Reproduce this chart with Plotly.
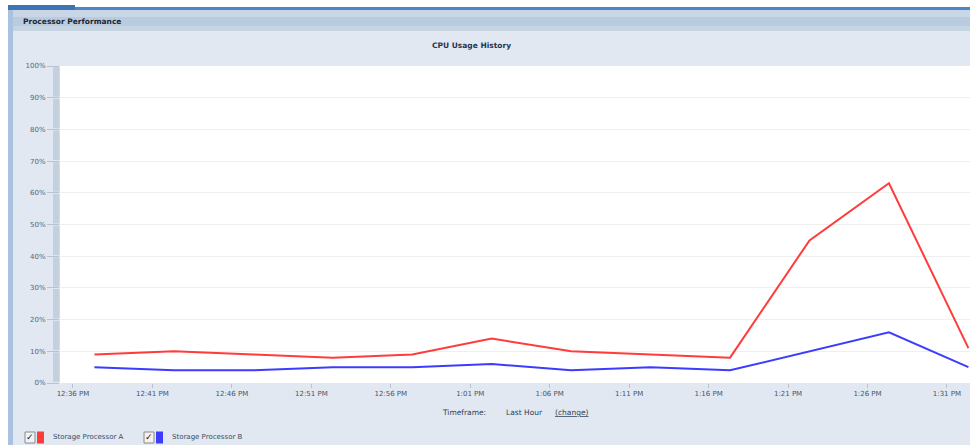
import plotly.graph_objects as go

# ---------------- data ----------------
times = ["2024-01-01 12:37:21", "2024-01-01 12:42:21", "2024-01-01 12:47:21",
         "2024-01-01 12:52:21", "2024-01-01 12:57:21", "2024-01-01 13:02:21",
         "2024-01-01 13:07:21", "2024-01-01 13:12:21", "2024-01-01 13:17:21",
         "2024-01-01 13:22:21", "2024-01-01 13:27:21", "2024-01-01 13:32:21"]
sp_a = [9, 10, 9, 8, 9, 14, 10, 9, 8, 45, 63, 11]
sp_b = [5, 4, 4, 5, 5, 6, 4, 5, 4, 10, 16, 5]

tick_times = ["2024-01-01 12:36", "2024-01-01 12:41", "2024-01-01 12:46",
              "2024-01-01 12:51", "2024-01-01 12:56", "2024-01-01 13:01",
              "2024-01-01 13:06", "2024-01-01 13:11", "2024-01-01 13:16",
              "2024-01-01 13:21", "2024-01-01 13:26", "2024-01-01 13:31"]
tick_labels = ["12:36 PM", "12:41 PM", "12:46 PM", "12:51 PM", "12:56 PM", "1:01 PM",
               "1:06 PM", "1:11 PM", "1:16 PM", "1:21 PM", "1:26 PM", "1:31 PM"]
y_ticks = [0, 10, 20, 30, 40, 50, 60, 70, 80, 90, 100]
y_tick_labels = ["0%", "10%", "20%", "30%", "40%", "50%", "60%", "70%", "80%", "90%", "100%"]

series_names = ["Storage Processor A", "Storage Processor B"]
series_colors = ["#ff3c3c", "#3c3cff"]

# ---------------- geometry helpers ----------------
W_FIG, H_FIG = 970, 445
L, R, T, B = 60, 970, 66, 383
PW, PH = R - L, B - T


def px(x):
    return (x - L) / PW


def py(y):
    return (B - y) / PH


FONT = "DejaVu Sans"
PANEL = "#e1e8f2"

fig = go.Figure()
for name, vals, col in zip(series_names, [sp_a, sp_b], series_colors):
    fig.add_trace(go.Scatter(x=times, y=vals, mode="lines", name=name,
                             line=dict(color=col, width=2), hoverinfo="skip"))

shapes = []
# white outer strips
shapes.append(dict(type="rect", xref="paper", yref="paper", x0=px(0), x1=px(8), y0=py(445), y1=py(0),
                   fillcolor="white", line_width=0, layer="below"))
shapes.append(dict(type="rect", xref="paper", yref="paper", x0=px(0), x1=px(970), y0=py(7), y1=py(0),
                   fillcolor="white", line_width=0, layer="below"))
# top blue bar
shapes.append(dict(type="rect", xref="paper", yref="paper", x0=px(8), x1=px(970), y0=py(10), y1=py(7),
                   fillcolor="#4a86c8", line_width=0, layer="below"))
shapes.append(dict(type="rect", xref="paper", yref="paper", x0=px(8), x1=px(75), y0=py(10), y1=py(5),
                   fillcolor="#3f74b4", line_width=0, layer="below"))
# header band (gradient approximation)
for y0, y1, c in [(10, 17, "#c8d6e5"), (17, 26, "#b9cbde"), (26, 31, "#c6d5e1")]:
    shapes.append(dict(type="rect", xref="paper", yref="paper", x0=px(8), x1=px(970), y0=py(y1), y1=py(y0),
                       fillcolor=c, line_width=0, layer="below"))
# left border
shapes.append(dict(type="rect", xref="paper", yref="paper", x0=px(8), x1=px(13), y0=py(445), y1=py(10),
                   fillcolor="#a9c2e0", line_width=0, layer="below"))
# segmented y-axis bar
for k in range(10):
    shapes.append(dict(type="rect", xref="paper", yref="y", x0=px(53), x1=px(59.5),
                       y0=k * 10 + 0.35, y1=(k + 1) * 10 - 0.35,
                       fillcolor="#c3d1df", line_width=0, layer="above"))

annotations = []
annotations.append(dict(text="<b>Processor Performance</b>", xref="paper", yref="paper",
                        x=px(21), y=py(22), xanchor="left", yanchor="middle", showarrow=False,
                        font=dict(family=FONT, size=7.5, color="#1e2630")))
annotations.append(dict(text="<b>CPU Usage History</b>", xref="paper", yref="paper",
                        x=px(471), y=py(46), xanchor="center", yanchor="middle", showarrow=False,
                        font=dict(family=FONT, size=7.5, color="#1f3553")))
# timeframe row
for txt, xx in [("Timeframe:", 440), ("Last Hour", 504), ("<u>(change)</u>", 553)]:
    annotations.append(dict(text=txt, xref="paper", yref="paper", x=px(xx), y=py(412),
                            xanchor="left", yanchor="middle", showarrow=False,
                            font=dict(family=FONT, size=7.5, color="#2e3f55")))

# custom legend
for name, col, xbox in zip(series_names, series_colors, [25, 144]):
    shapes.append(dict(type="rect", xref="paper", yref="paper", x0=px(xbox), x1=px(xbox + 10),
                       y0=py(443), y1=py(432), fillcolor="#f2f2f2",
                       line=dict(color="#8a8a8a", width=1), layer="above"))
    annotations.append(dict(text="✓", xref="paper", yref="paper", x=px(xbox + 5), y=py(437),
                            xanchor="center", yanchor="middle", showarrow=False,
                            font=dict(family=FONT, size=9, color="#111111")))
    shapes.append(dict(type="rect", xref="paper", yref="paper", x0=px(xbox + 12), x1=px(xbox + 19),
                       y0=py(443.5), y1=py(431.5), fillcolor=col, line_width=0, layer="above"))
    annotations.append(dict(text=name, xref="paper", yref="paper", x=px(xbox + 26), y=py(437),
                            xanchor="left", yanchor="middle", showarrow=False,
                            font=dict(family=FONT, size=7, color="#3a4c66")))

fig.update_layout(
    width=W_FIG, height=H_FIG,
    margin=dict(l=L, r=W_FIG - R, t=T, b=H_FIG - B, pad=0),
    paper_bgcolor=PANEL, plot_bgcolor="white",
    showlegend=False,
    shapes=shapes, annotations=annotations,
    xaxis=dict(type="date", range=["2024-01-01 12:35:11", "2024-01-01 13:32:27"],
               tickvals=tick_times, ticktext=tick_labels,
               showgrid=False, zeroline=False, showline=False,
               ticks="outside", ticklen=4, tickcolor="#b8c3cf",
               tickfont=dict(family=FONT, size=7, color="#44556a")),
    yaxis=dict(range=[0, 100], tickvals=y_ticks, ticktext=y_tick_labels,
               showgrid=True, gridcolor="#efefef", gridwidth=1,
               zeroline=False, showline=False,
               ticks="outside", ticklen=12, tickcolor="#b8c3cf",
               tickfont=dict(family=FONT, size=7, color="#55667a")),
)

fig.write_html("out.html", config={"displayModeBar": False},
               post_script="document.body.style.margin='0';document.body.style.overflow='hidden';")
